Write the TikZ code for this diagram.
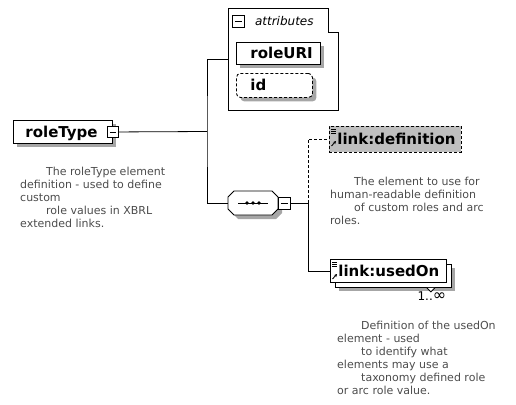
\documentclass[tikz,border=0pt]{standalone}
\usepackage{fontspec}
\setmainfont{DejaVu Sans}
\usetikzlibrary{positioning,shadows,arrows.meta}

\newcommand\lblfont{\bfseries\fontsize{15}{15}\selectfont\hyphenpenalty=10000 }
\newcommand\docfont{\fontsize{11}{13}\selectfont}

\tikzset{
  elem/.style={draw,fill=white,line width=.9pt,anchor=north west,
    minimum height=23pt,inner ysep=0pt,text height=11pt,text depth=0pt,
    align=left,font=\lblfont},
  shade/.style={general shadow={fill=black!35,shadow xshift=4pt,shadow yshift=-4pt}},
  optional/.style={dash pattern=on 3pt off 2pt},
  minus/.style={draw,fill=white,line width=.8pt,minimum size=11pt,inner sep=0pt,
    path picture={\draw ([xshift=2.5pt]path picture bounding box.west) -- ([xshift=-2.5pt]path picture bounding box.east);}},
  doc/.style={anchor=north west,align=left,inner sep=0pt,font=\docfont,text=black!70},
  wire/.style={line width=.8pt},
  refmark/.pic={
    \foreach \y in {0,2,4} \draw[line width=.6pt] (0,\y) -- (5,\y);
    \draw[line width=.9pt,-{Stealth[length=3pt,width=3pt]}] (0.5,17) -- (5,12);
  }
}

\begin{document}
\begin{tikzpicture}[x=1pt,y=-1pt]
  \useasboundingbox (0,0) rectangle (516,404);

  % roleType element
  \node[elem,shade,inner xsep=12pt,text width=75pt] (roletype) at (13,120) {roleType};
  \node[minus] (rtminus) at (roletype.east) {};
  \node[doc] (roletypedoc) at (20,167) {\hspace*{26pt}The roleType element\\definition - used to define\\custom\\\hspace*{26pt}role values in XBRL\\extended links.};

  % attributes group
  \node[minimum width=110pt,minimum height=102pt,anchor=north west,inner sep=0pt] (attrs) at (228,8) {};
  \draw[line width=.9pt] (attrs.north west) -- ([xshift=-10pt]attrs.north east) |- ([yshift=-24pt]attrs.north east)
    -- (attrs.south east) -- (attrs.south west) -- cycle;
  \node[minus,anchor=north west,minimum size=12pt] (attrminus) at (232,15) {};
  \node[right=10pt of attrminus,inner sep=0pt,font=\itshape\fontsize{12}{12}\selectfont] (attrtitle) {attributes};
  \node[elem,shade,inner xsep=14pt,text width=56pt,minimum height=22pt] (roleuri) at (236,42) {roleURI};
  \node[elem,shade,optional,rounded corners=4pt,inner xsep=14pt,text width=48pt,minimum height=24pt] (id) at (236,73) {id};

  % sequence compositor
  \node[minimum width=50pt,minimum height=24pt,inner sep=0pt] (seq) at (253,203) {};
  \fill[black!35,shift={(4,4)}] (234,191) -- (272,191) -- (278,197) -- (278,209) -- (272,215) -- (234,215) -- (228,209) -- (228,197) -- cycle;
  \draw[line width=.9pt,fill=white] (234,191) -- (272,191) -- (278,197) -- (278,209) -- (272,215) -- (234,215) -- (228,209) -- (228,197) -- cycle;
  \draw[line width=.8pt] (238,203) -- (268,203);
  \foreach \x in {247,253,259} \fill (\x,203) circle (1.8);
  \node[minus,minimum size=12pt] (seqminus) at (284,203) {};

  % link:definition
  \node[elem,optional,fill=black!25,inner xsep=8pt,text width=116pt,minimum height=26pt] (linkdef) at (329,126) {link:definition};
  \pic at ([shift={(2,3)}]linkdef.north west) {refmark};
  \node[doc] (linkdefdoc) at (330,177) {\hspace*{24pt}The element to use for\\human-readable definition\\\hspace*{24pt}of custom roles and arc\\roles.};

  % link:usedOn, 1..unbounded
  \node[elem,shade,minimum width=116pt] (usedonback) at (335,264) {};
  \draw[line width=.8pt,fill=white] ([xshift=-25pt]usedonback.south east) -- ++(4,4) -- ++(4,-4);
  \node[elem,inner xsep=8pt,text width=100pt] (usedon) at (330,259) {link:usedOn};
  \pic at ([shift={(2,3)}]usedon.north west) {refmark};
  \node[below=4pt of usedonback.south east,xshift=-20pt,inner sep=0pt,font=\fontsize{12}{12}\selectfont] (usedoncard) {1..{\fontsize{16}{16}\selectfont ∞}};
  \node[doc] (usedondoc) at (337,321) {\hspace*{24pt}Definition of the usedOn\\element - used\\\hspace*{24pt}to identify what\\elements may use a\\\hspace*{24pt}taxonomy defined role\\or arc role value.};

  % connectors
  \coordinate (fork) at (207,131.5);
  \coordinate (branch) at (308,203);
  \draw[wire] (rtminus.east) -- (fork);
  \draw[wire] (attrs.west) -| (fork) |- (seq.west);
  \draw[wire] (seqminus.east) -- (branch);
  \draw[wire,optional] (branch) |- (linkdef.west);
  \draw[wire] (branch) |- (usedon.west);
\end{tikzpicture}
\end{document}
